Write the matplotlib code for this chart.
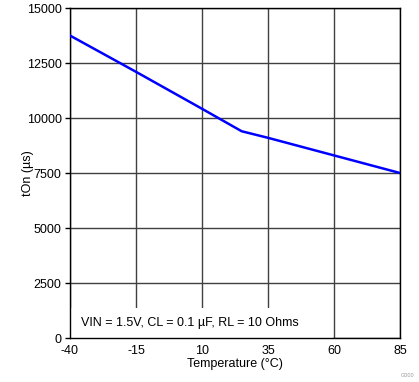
import matplotlib.pyplot as plt
from matplotlib.patches import Rectangle

temps = [-40, -15, 10, 25, 35, 60, 85]
t_on = [13750, 12100, 10420, 9400, 9100, 8300, 7500]
x_ticks = [-40, -15, 10, 35, 60, 85]
y_ticks = [0, 2500, 5000, 7500, 10000, 12500, 15000]

plt.rcParams['font.family'] = ['Liberation Sans', 'DejaVu Sans']
plt.rcParams['axes.unicode_minus'] = False

fig = plt.figure(figsize=(4.19, 3.82), dpi=100)
ax = fig.add_axes([0.167, 0.115, 0.788, 0.864])

ax.plot(temps, t_on, color="#0000FF", linewidth=1.8, zorder=3)

ax.set_xlim(-40, 85)
ax.set_ylim(0, 15000)
ax.set_xticks(x_ticks)
ax.set_yticks(y_ticks)
ax.tick_params(labelsize=9, colors="black")
ax.tick_params(axis="x", length=0, pad=5)
ax.tick_params(axis="y", length=3.5, width=1, pad=2.5)
ax.grid(True, color="#404040", linewidth=1, zorder=1)
ax.set_axisbelow(True)
for s in ax.spines.values():
    s.set_color("black")
    s.set_linewidth(1)

# white box behind the condition text
ax.add_patch(Rectangle((0, 0), 0.797, 0.09, transform=ax.transAxes,
                       facecolor="white", edgecolor="none", zorder=2))
ax.text(0.033, 0.045, "VIN = 1.5V, CL = 0.1 µF, RL = 10 Ohms",
        transform=ax.transAxes, fontsize=9, va="center", ha="left", zorder=4)

ax.set_xlabel("Temperature (°C)", fontsize=9, labelpad=1)
ax.set_ylabel("tOn (µs)", fontsize=9)
ax.yaxis.set_label_coords(-0.108, 0.5)

fig.text(0.99, 0.01, "G000", fontsize=4, color="#999999", ha="right", va="bottom")

fig.savefig("out.png", dpi=100)
